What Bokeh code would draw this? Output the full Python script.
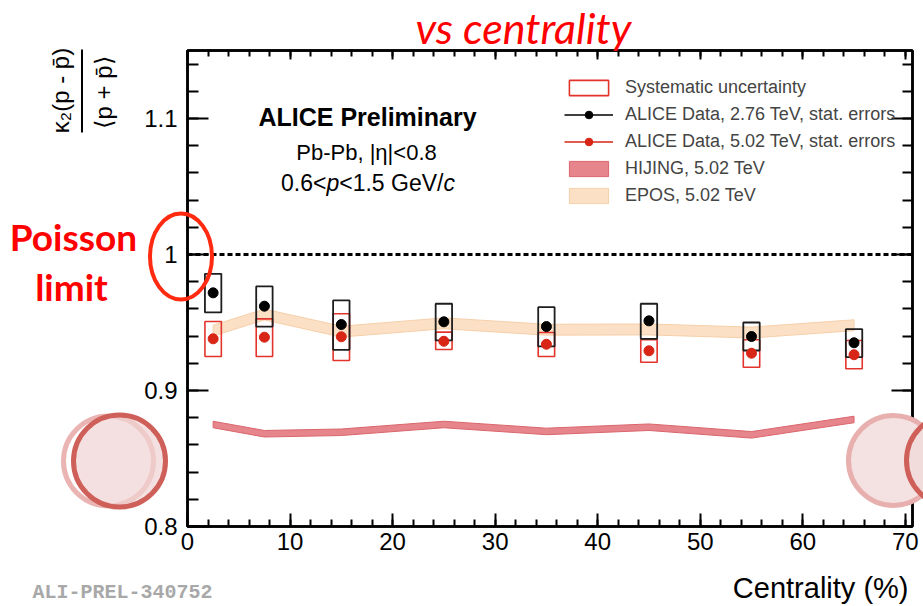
import numpy as np
from bokeh.plotting import figure
from bokeh.models import (Range1d, LinearAxis, SingleIntervalTicker, CustomJSTickFormatter,
                          Label, Legend, LegendItem, ColumnDataSource, Span)
from bokeh.embed import file_html
from bokeh.resources import INLINE

# ---------------- data ----------------
cent = [2.5, 7.5, 15, 25, 35, 45, 55, 65]

alice276 = [0.9718, 0.9620, 0.9485, 0.9505, 0.9470, 0.9512, 0.9397, 0.9351]
alice276_stat = [0.0020, 0.0020, 0.0020, 0.0020, 0.0020, 0.0020, 0.0020, 0.0020]
alice276_sys_lo = [0.9574, 0.9470, 0.9299, 0.9368, 0.9324, 0.9380, 0.9294, 0.9245]
alice276_sys_hi = [0.9858, 0.9765, 0.9662, 0.9638, 0.9613, 0.9638, 0.9500, 0.9451]

alice502 = [0.9380, 0.9392, 0.9395, 0.9362, 0.9340, 0.9292, 0.9274, 0.9263]
alice502_stat = [0.0015, 0.0015, 0.0015, 0.0015, 0.0015, 0.0015, 0.0015, 0.0015]
alice502_sys_lo = [0.9250, 0.9250, 0.9221, 0.9301, 0.9250, 0.9208, 0.9171, 0.9160]
alice502_sys_hi = [0.9507, 0.9527, 0.9564, 0.9429, 0.9426, 0.9373, 0.9373, 0.9368]

hijing = [0.8750, 0.8682, 0.8693, 0.8750, 0.8699, 0.8730, 0.8674, 0.8787]
hijing_err = [0.0024, 0.0024, 0.0024, 0.0024, 0.0024, 0.0024, 0.0024, 0.0024]

epos = [0.9440, 0.9559, 0.9433, 0.9494, 0.9447, 0.9449, 0.9426, 0.9480]
epos_err = [0.0040, 0.0040, 0.0040, 0.0040, 0.0040, 0.0040, 0.0040, 0.0040]

sys_halfwidth = 0.8  # box half width in centrality units

x_ticks_major = 10
y_ticks_major = 0.1

# ---------------- main figure ----------------
W, H = 923, 606
FL, FR, FT, FB = 187, 912, 50, 526   # frame edges in canvas pixels

p = figure(width=W, height=H, output_backend="svg", toolbar_location=None,
           x_range=Range1d(0, 70.7), y_range=Range1d(0.8, 0.8 + (FB - FT) / 1360.0),
           min_border_left=FL, min_border_right=W - FR, min_border_top=FT,
           min_border_bottom=H - FB)
p.xgrid.visible = False
p.ygrid.visible = False
p.background_fill_color = "white"
p.border_fill_color = "white"
p.outline_line_color = "black"
p.outline_line_width = 2.5

FONT = "Liberation Sans"

def style_axis(ax, major_in, minor_in, labels=True):
    ax.axis_line_width = 2.5
    ax.axis_line_color = "black"
    ax.major_tick_line_width = 2
    ax.minor_tick_line_width = 2
    ax.major_tick_in = major_in
    ax.major_tick_out = 0
    ax.minor_tick_in = minor_in
    ax.minor_tick_out = 0
    ax.major_label_text_font = FONT
    ax.major_label_text_font_size = "24px"
    ax.major_label_text_color = "black"
    if not labels:
        ax.formatter = CustomJSTickFormatter(code="return '';")
        ax.major_label_standoff = 0

xb = p.xaxis[0]
xb.ticker = SingleIntervalTicker(interval=x_ticks_major, num_minor_ticks=5)
style_axis(xb, 13, 7)
xb.major_label_standoff = 6

yl = p.yaxis[0]
yl.ticker = SingleIntervalTicker(interval=y_ticks_major, num_minor_ticks=5)
yl.formatter = CustomJSTickFormatter(code="return (Math.round(tick*10)/10).toString();")
style_axis(yl, 21, 11)
yl.major_label_standoff = 10

xt = LinearAxis(ticker=SingleIntervalTicker(interval=x_ticks_major, num_minor_ticks=5))
style_axis(xt, 9, 6, labels=False)
p.add_layout(xt, "above")

yr = LinearAxis(ticker=SingleIntervalTicker(interval=y_ticks_major, num_minor_ticks=5))
style_axis(yr, 21, 10, labels=False)
p.add_layout(yr, "right")

# ---------------- glyphs ----------------
c = np.array(cent, dtype=float)

def band_patch(center, err):
    center = np.array(center); err = np.array(err)
    xs = list(c) + list(c[::-1])
    ys = list(center - err) + list((center + err)[::-1])
    return xs, ys

ex, ey = band_patch(epos, epos_err)
r_epos = p.patch(ex, ey, fill_color="#fbe0c6", fill_alpha=1.0,
                 line_color="#f7cfa8", line_width=1)

hx, hy = band_patch(hijing, hijing_err)
r_hij = p.patch(hx, hy, fill_color="#e6858b", fill_alpha=1.0,
                line_color="#da666d", line_width=1)

def make_src(vals, stat, lo, hi):
    v = np.array(vals); s = np.array(stat)
    return ColumnDataSource(dict(x=c, y=v, lo=v - s, hi=v + s,
                                 sl=np.array(lo), sh=np.array(hi),
                                 l=c - sys_halfwidth, r=c + sys_halfwidth))

src276 = make_src(alice276, alice276_stat, alice276_sys_lo, alice276_sys_hi)
src502 = make_src(alice502, alice502_stat, alice502_sys_lo, alice502_sys_hi)

r_sys502 = p.quad(left="l", right="r", bottom="sl", top="sh", source=src502,
                  fill_alpha=0, line_color="#e3342c", line_width=1.6)
r_sys276 = p.quad(left="l", right="r", bottom="sl", top="sh", source=src276,
                  fill_alpha=0, line_color="#1e1e1e", line_width=1.8)

r_err502 = p.segment(x0="x", y0="lo", x1="x", y1="hi", source=src502,
                     line_color="#d82515", line_width=1.5)
r_pt502 = p.scatter(x="x", y="y", source=src502, size=10, marker="circle",
                    fill_color="#d82515", line_color="#d82515")
r_err276 = p.segment(x0="x", y0="lo", x1="x", y1="hi", source=src276,
                     line_color="black", line_width=1.5)
r_pt276 = p.scatter(x="x", y="y", source=src276, size=10, marker="circle",
                    fill_color="black", line_color="black")

p.add_layout(Span(location=1.0, dimension="width", line_color="black",
                  line_width=3, line_dash="5 3"))

# ---------------- legend ----------------
legend = Legend(items=[
    LegendItem(label="Systematic uncertainty", renderers=[r_sys502]),
    LegendItem(label="ALICE Data, 2.76 TeV, stat. errors", renderers=[r_err276, r_pt276]),
    LegendItem(label="ALICE Data, 5.02 TeV, stat. errors", renderers=[r_err502, r_pt502]),
    LegendItem(label="HIJING, 5.02 TeV", renderers=[r_hij]),
    LegendItem(label="EPOS, 5.02 TeV", renderers=[r_epos]),
], location=(564 - FL, FB - 206), padding=0, margin=0, spacing=6,
   glyph_width=49, glyph_height=19, label_height=19, label_standoff=12,
   label_text_font=FONT, label_text_font_size="18px",
   border_line_alpha=0, background_fill_alpha=0)
p.add_layout(legend)

# ---------------- in-frame texts ----------------
def sx(X):
    return X - FL

def sy(Y):
    return FB - Y

def label(text, X, Y, size, **kw):
    opts = dict(text_font=FONT, text_color="black", text_align="center",
                text_baseline="middle")
    opts.update(kw)
    p.add_layout(Label(x=sx(X), y=sy(Y), x_units="screen", y_units="screen",
                       text=text, text_font_size=size, **opts))

label("ALICE Preliminary", 367, 116, "25px", text_font_style="bold")
label("Pb-Pb, |η|<0.8", 366, 152, "22px")
label("0.6<", 280.5, 182, "23px", text_align="left")
label("p", 325.9, 182, "23px", text_align="left", text_font_style="italic")
label("<1.5 GeV/", 338.7, 182, "23px", text_align="left")
label("c", 442.9, 182, "23px", text_align="left", text_font_style="italic")

# ---------------- overlay (separate root) for texts / marks outside the frame ----------------
ov = figure(width=W, height=H, output_backend="svg", toolbar_location=None,
            x_range=Range1d(0, W), y_range=Range1d(H, 0),
            x_axis_location=None, y_axis_location=None,
            min_border_left=0, min_border_right=0, min_border_top=0, min_border_bottom=0)
ov.xgrid.visible = False
ov.ygrid.visible = False
ov.background_fill_alpha = 0
ov.border_fill_alpha = 0
ov.outline_line_color = None
ov.styles = {"position": "absolute", "top": "0px", "left": "0px", "z-index": "10"}

def olabel(text, X, Y, size, **kw):
    opts = dict(text_font=FONT, text_color="black", text_align="center",
                text_baseline="middle")
    opts.update(kw)
    ov.add_layout(Label(x=X, y=Y, text=text, text_font_size=size, **opts))

olabel("Centrality (%)", 908, 587, "29px", text_align="right")
olabel("ALI-PREL-340752", 32, 592, "20px", text_align="left",
       text_font="Liberation Mono", text_font_style="bold", text_color="#a8a8a8")
olabel("vs centrality", 523, 1, "43px", text_font="Lato", text_font_style="italic",
       text_color="#ff0000", text_baseline="top")
olabel("Poisson", 73, 236, "37px", text_font="Lato", text_font_style="bold",
       text_color="#ff0000", text_baseline="alphabetic")
olabel("limit", 71, 286, "37px", text_font="Lato", text_font_style="bold",
       text_color="#ff0000", text_baseline="alphabetic")

# y axis label drawn as a fraction
olabel("κ₂(p - p̄)", 60, 90, "24px", angle=np.pi / 2)
olabel("⟨p + p̄⟩", 103, 92, "24px", angle=np.pi / 2)
ov.segment(x0=[81.5], y0=[49], x1=[81.5], y1=[132], line_color="black", line_width=2)

# highlight marks
ov.ellipse(x=[180.5], y=[256], width=[62], height=[86], fill_alpha=0,
           line_color="#ff2a10", line_width=4)
ov.ellipse(x=[108], y=[460.5], width=[90], height=[90], fill_color="white", fill_alpha=1,
           line_color="#e9b4b2", line_width=5)
ov.ellipse(x=[119], y=[460.5], width=[92], height=[92], fill_color="#efd3d3", fill_alpha=0.7,
           line_color="#cf5f59", line_width=5)
ov.ellipse(x=[893], y=[460], width=[90], height=[90], fill_color="#f4e1e1", fill_alpha=1,
           line_color="#e7afad", line_width=5)
ov.ellipse(x=[952], y=[460], width=[92], height=[92], fill_color="#f1dada", fill_alpha=0.9,
           line_color="#cf5f59", line_width=5)

open("out.html", "w").write(file_html([p, ov], INLINE))
